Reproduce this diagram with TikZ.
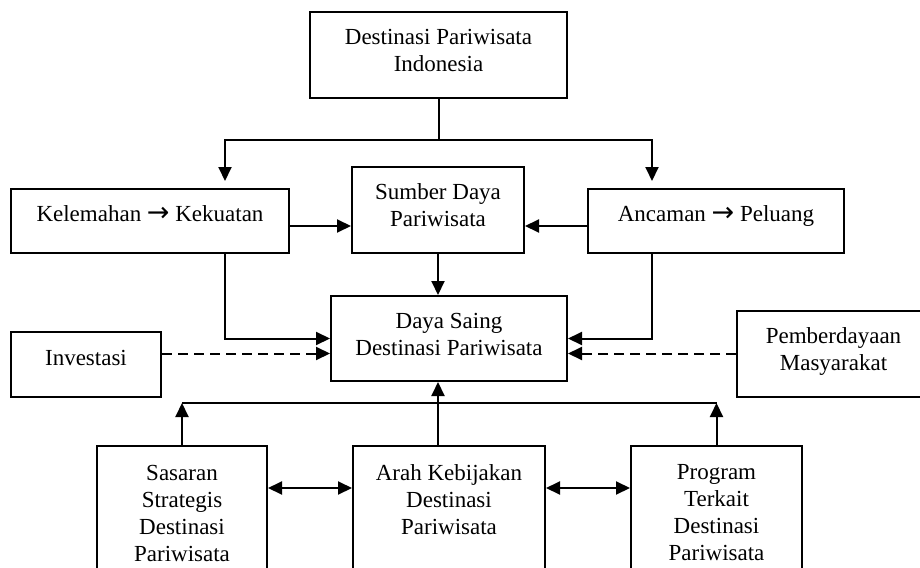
\documentclass[tikz,border=0pt]{standalone}
\usepackage{fontspec}
\setmainfont{Liberation Serif}
\newfontfamily\arrowfont{DejaVu Sans}
\usetikzlibrary{arrows.meta,calc}
\newcommand\dpx{\rule[-9pt]{0pt}{9pt}}
\newcommand\chev{{\arrowfont\fontsize{27}{27}\selectfont →}}
\tikzset{
  box/.style={draw, line width=2pt, fill=white, align=center, inner sep=0pt,
    font=\fontsize{23}{27}\selectfont},
  conn/.style={line width=2pt},
  arr/.style={conn, -{Triangle[length=14pt,width=13pt]}},
  darr/.style={conn, {Triangle[length=14pt,width=13pt]}-{Triangle[length=14pt,width=13pt]}},
  dashline/.style={dash pattern=on 10pt off 6pt},
}
\begin{document}
\begin{tikzpicture}[x=1pt,y=-1pt]
\useasboundingbox (0,0) rectangle (920,567);
\clip (0,0) rectangle (920,567);
% boxes
\node[box, minimum width=257pt, minimum height=86pt] (top) at (438.5,55) {Destinasi Pariwisata\\Indonesia\dpx};
\node[box, minimum width=278pt, minimum height=64pt] (kel) at (150,221) {Kelemahan \chev{} Kekuatan\rule[-14pt]{0pt}{14pt}};
\node[box, minimum width=172pt, minimum height=86pt] (sum) at (438,210) {Sumber Daya\\Pariwisata\dpx};
\node[box, minimum width=256pt, minimum height=64pt] (anc) at (716,221) {Ancaman \chev{} Peluang\rule[-14pt]{0pt}{14pt}};
\node[box, minimum width=236pt, minimum height=85pt] (daya) at (449,338.5) {Daya Saing\\Destinasi Pariwisata\dpx};
\node[box, minimum width=150pt, minimum height=65pt] (inv) at (86,364.5) {Investasi\rule[-14pt]{0pt}{14pt}};
\node[box, minimum width=193pt, minimum height=86pt] (pem) at (833.5,354) {Pemberdayaan\\Masyarakat\dpx};
\node[box, minimum width=170pt, minimum height=134pt] (sas) at (182,513) {Sasaran\\Strategis\\Destinasi\\Pariwisata};
\node[box, minimum width=192pt, minimum height=134pt] (arah) at (449,513) {Arah Kebijakan\\Destinasi\\Pariwisata\\~};
\node[box, minimum width=171pt, minimum height=134pt] (prog) at (716.5,513) {Program\\Terkait\\Destinasi\\Pariwisata};
% top split
\coordinate (split) at (438.5,140);
\draw[conn] (top.south) -- (split);
\draw[arr, shorten >=7pt] (split) -| ([xshift=75pt]kel.north);
\draw[arr, shorten >=7pt] (split) -| ([xshift=-64pt]anc.north);
% into Sumber Daya
\coordinate (k1) at ([yshift=-5pt]kel.east);
\draw[arr] (k1) -- (k1 -| sum.west);
\coordinate (a1) at ([yshift=-5pt]anc.west);
\draw[arr] (a1) -- (a1 -| sum.east);
\draw[arr] (sum.south) -- (sum.south |- daya.north);
% into Daya Saing
\draw[arr] ([xshift=75pt]kel.south) |- (daya.west);
\draw[arr] ([xshift=-64pt]anc.south) |- (daya.east);
\coordinate (dL) at ([yshift=-15pt]daya.west);
\draw[arr, dashline] (dL -| inv.east) -- (dL);
\coordinate (dR) at ([yshift=-15pt]daya.east);
\draw[arr, dashline] (dR -| pem.west) -- (dR);
% bottom
\coordinate (bar) at (0,403);
\draw[conn] (sas.north |- bar) -- (prog.north |- bar);
\draw[arr] (sas.north) -- (sas.north |- bar);
\draw[arr] (prog.north) -- (prog.north |- bar);
\coordinate (ah) at ([xshift=-11pt]arah.north);
\draw[arr] (ah) -- (ah |- daya.south);
\coordinate (s1) at ([yshift=25pt]sas.east);
\draw[darr] (s1) -- (s1 -| arah.west);
\coordinate (p1) at ([yshift=25pt]prog.west);
\draw[darr] (arah.east |- p1) -- (p1);
\end{tikzpicture}
\end{document}
